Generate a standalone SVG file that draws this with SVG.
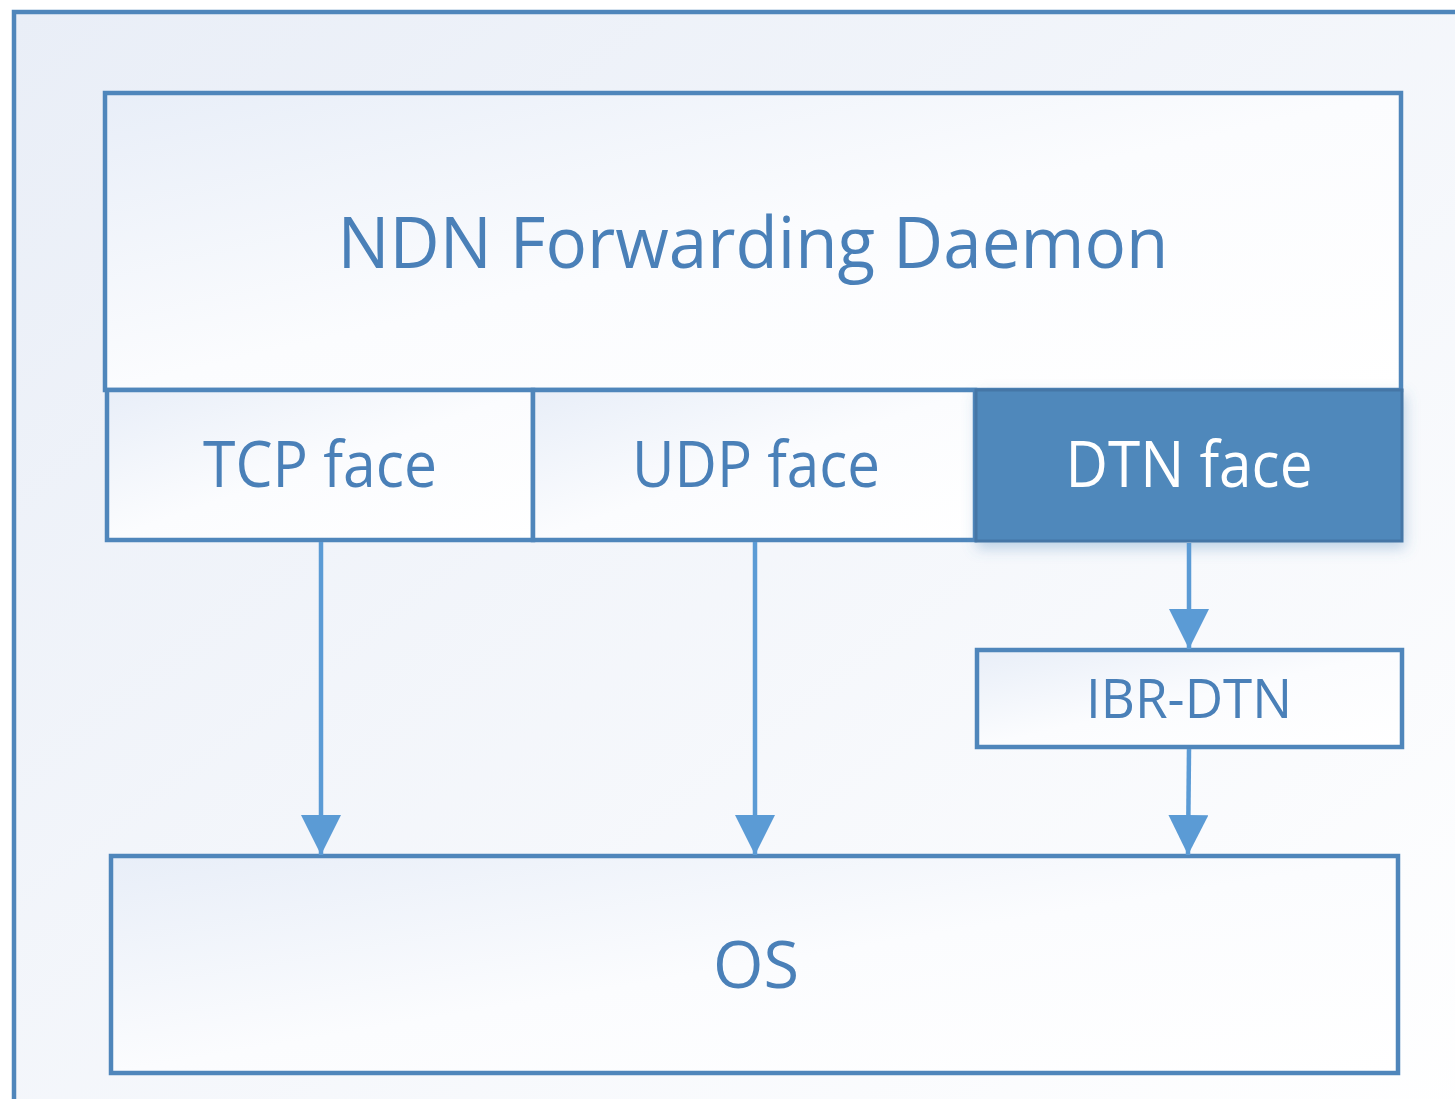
<svg xmlns="http://www.w3.org/2000/svg" width="1455" height="1099" viewBox="0 0 1455 1099">
<defs>
<linearGradient id="g" x1="0" y1="0" x2="1" y2="1">
<stop offset="0" stop-color="#e8eef8"/>
<stop offset="0.5" stop-color="#fbfcfe"/>
<stop offset="1" stop-color="#ffffff"/>
</linearGradient>
<linearGradient id="gOuter" x1="0" y1="0" x2="1" y2="1">
<stop offset="0" stop-color="#e9eef7"/>
<stop offset="1" stop-color="#ffffff"/>
</linearGradient>
<filter id="sh" x="-10%" y="-20%" width="125%" height="150%">
<feGaussianBlur in="SourceAlpha" stdDeviation="7"/>
<feOffset dx="2" dy="6" result="b"/>
<feFlood flood-color="#4f88bb" flood-opacity="0.35"/>
<feComposite in2="b" operator="in"/>
<feMerge><feMergeNode/><feMergeNode in="SourceGraphic"/></feMerge>
</filter>
<marker id="ah" viewBox="0 0 40 40" refX="40" refY="20" markerWidth="40" markerHeight="40" markerUnits="userSpaceOnUse" orient="auto">
<path d="M0,0 L40,20 L0,40 Z" fill="#5b9bd5"/>
</marker>
</defs>
<style>
.box{fill:url(#g);stroke:#4f86bb;stroke-width:4.5}
.lbl{font-family:"Open Sans","Noto Sans",sans-serif;fill:#4a80b8;text-anchor:middle}
.con{stroke:#5b9bd5;stroke-width:4.5;fill:none}
</style>
<rect width="1455" height="1099" fill="#ffffff"/>
<g id="frame">
<rect x="14" y="12" width="1470" height="1120" fill="url(#gOuter)" stroke="#4f86bb" stroke-width="4.5"/>
</g>
<g id="ndn">
<rect class="box" x="105" y="93" width="1296" height="297"/>
<text class="lbl" x="753" y="268" font-size="72" textLength="831" lengthAdjust="spacingAndGlyphs">NDN Forwarding Daemon</text>
</g>
<g id="tcp">
<rect class="box" x="107" y="390" width="426" height="150"/>
<text class="lbl" x="320" y="487" font-size="64" textLength="234" lengthAdjust="spacingAndGlyphs">TCP face</text>
</g>
<g id="udp">
<rect class="box" x="533" y="390" width="442" height="150"/>
<text class="lbl" x="756" y="487" font-size="64" textLength="248" lengthAdjust="spacingAndGlyphs">UDP face</text>
</g>
<g id="dtn">
<rect x="976" y="390" width="426" height="151" fill="#4f88bb" stroke="#4576a6" stroke-width="3" filter="url(#sh)"/>
<text class="lbl" x="1189" y="487" font-size="64" style="fill:#ffffff" textLength="247" lengthAdjust="spacingAndGlyphs">DTN face</text>
</g>
<g id="ibr">
<rect class="box" x="977" y="650" width="425" height="97"/>
<text class="lbl" x="1189" y="718" font-size="55" textLength="206" lengthAdjust="spacingAndGlyphs">IBR-DTN</text>
</g>
<g id="os">
<rect class="box" x="111" y="856" width="1287" height="217"/>
<text class="lbl" x="756" y="988" font-size="66" textLength="86" lengthAdjust="spacingAndGlyphs">OS</text>
</g>
<g id="connectors">
<line class="con" x1="321" y1="542" x2="321" y2="855" marker-end="url(#ah)"/>
<line class="con" x1="755" y1="542" x2="755" y2="855" marker-end="url(#ah)"/>
<line class="con" x1="1189" y1="543" x2="1189" y2="649" marker-end="url(#ah)"/>
<line class="con" x1="1189" y1="749" x2="1188" y2="855" marker-end="url(#ah)"/>
</g>
</svg>
